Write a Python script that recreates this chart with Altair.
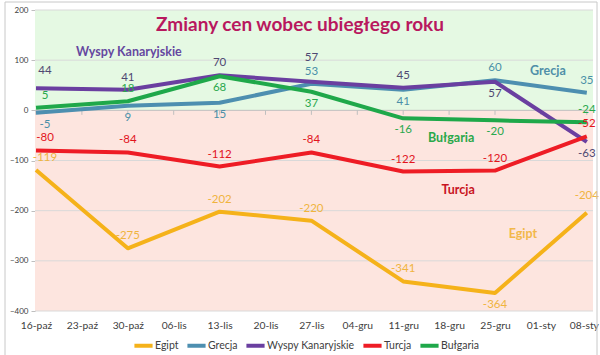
import json
import altair as alt
import pandas as pd

# ---- data ----
weeks = ["16-paź", "23-paź", "30-paź", "06-lis", "13-lis", "20-lis", "27-lis",
         "04-gru", "11-gru", "18-gru", "25-gru", "01-sty", "08-sty"]
dates = ["16-paź", "30-paź", "13-lis", "27-lis", "11-gru", "25-gru", "08-sty"]
series = ["Egipt", "Grecja", "Wyspy Kanaryjskie", "Turcja", "Bułgaria"]
egipt = [-119, -275, -202, -220, -341, -364, -204]
grecja = [-5, 9, 15, 53, 41, 60, 35]
wyspy = [44, 41, 70, 57, 45, 57, -63]
turcja = [-80, -84, -112, -84, -122, -120, -52]
bulgaria = [5, 18, 68, 37, -16, -20, -24]
values = [egipt, grecja, wyspy, turcja, bulgaria]

# ---- style ----
line_colors = ["#f5b21a", "#4d8fb0", "#6a3fa0", "#ee1c25", "#1fa84a"]
label_colors = {"Egipt": "#f0b43e", "Grecja": "#4a8fa8", "Wyspy Kanaryjskie": "#4f4872",
                "Turcja": "#e2141c", "Bułgaria": "#2aa84d"}
# label placement: a = above, b = below, m = a bit higher, h = high above
placement = {
    "Egipt": ["a", "a", "a", "a", "a", "b", "m"],
    "Grecja": ["b", "b", "b", "a", "b", "a", "a"],
    "Wyspy Kanaryjskie": ["m", "a", "a", "h", "a", "b", "b"],
    "Turcja": ["a", "a", "a", "a", "a", "a", "a"],
    "Bułgaria": ["a", "a", "b", "b", "b", "b", "a"],
}
offsets = {"a": -12, "b": 12, "m": -17, "h": -24}
first_dx = 9
annotations = pd.DataFrame({
    "text": ["Wyspy Kanaryjskie", "Grecja", "Bułgaria", "Turcja", "Egipt"],
    "week": ["30-paź", "01-sty", "18-gru", "18-gru", "01-sty"],
    "v": [117, 79, -55, -158, -246],
    "dx": [1, 7, 2, 9, -18],
    "color": ["#6548a0", "#4f8fa8", "#2aa84a", "#c8141e", "#f2b84a"],
})

FONT = "Lato"
W, H = 558, 301
STEP = 45.9
LAST = len(weeks) - 1

rows = []
for s, vals in zip(series, values):
    for d, v, p in zip(dates, vals, placement[s]):
        rows.append({"series": s, "week": d, "wi": weeks.index(d), "value": v, "pos": p,
                     "lc": label_colors[s]})
df = pd.DataFrame(rows)
annotations["wi"] = [weeks.index(w) for w in annotations["week"]]

xscale = alt.Scale(domain=[-1 / STEP, (W - 1) / STEP], nice=False, zero=False)
yscale = alt.Scale(domain=[-400, 200], nice=False)

x_axis = alt.Axis(title=None, labelAngle=0, domain=False, ticks=False,
                  values=list(range(len(weeks))),
                  labelExpr=json.dumps(weeks, ensure_ascii=False) + "[datum.value]",
                  labelOffset={"condition": {"test": f"datum.value == {LAST}", "value": -3},
                               "value": 0},
                  labelPadding=9, labelFontSize=10.3, labelColor="#404040",
                  labelFont=FONT, grid=False, labelOverlap=False, labelBound=False,
                  labelFlush=False)
y_axis = alt.Axis(title=None, values=[-400, -300, -200, -100, 0, 100, 200],
                  labelFontSize=8, labelColor="#404040", labelFont=FONT,
                  domainColor="#bfbfbf", tickColor="#bfbfbf", tickSize=4,
                  labelPadding=3, grid=False)


def X(field):
    return alt.X(field, type="quantitative", scale=xscale, axis=x_axis)


def Y(field):
    return alt.Y(field, type="quantitative", scale=yscale, axis=y_axis)


bgdf = pd.DataFrame({"lo": [0, -400], "hi": [200, 0], "c": ["#e5f9e3", "#fde5df"]})
bg = alt.Chart(bgdf).mark_rect().encode(
    x=alt.value(0), x2=alt.value(W),
    y=Y("hi"), y2="lo",
    color=alt.Color("c:N", scale=None),
)

grid = alt.Chart(pd.DataFrame({"g": [-400, -300, -200, -100, 100, 200]})).mark_rule(
    color="#d9d9d9", strokeWidth=1).encode(y=Y("g"))

zero = alt.Chart(pd.DataFrame({"z": [0]})).mark_rule(color="#bfbfbf", strokeWidth=1).encode(
    y=Y("z"))

ticks = alt.Chart(pd.DataFrame({"wi": list(range(len(weeks))), "a": 0, "b": -9})).mark_rule(
    color="#bfbfbf").encode(x=X("wi"), y=Y("a"), y2="b")

lines = alt.Chart(df).mark_line(strokeWidth=4, strokeJoin="round").encode(
    x=X("wi"), y=Y("value"),
    color=alt.Color("series:N", sort=series,
                    scale=alt.Scale(domain=series, range=line_colors),
                    legend=alt.Legend(title=None, orient="none", direction="horizontal",
                                      legendX=97, legendY=324, symbolType="stroke",
                                      symbolStrokeWidth=4, symbolSize=330,
                                      labelFontSize=10.5, labelFont=FONT,
                                      labelColor="#404040", labelOffset=0,
                                      columnPadding=0)),
    order=alt.Order("wi:Q"),
)


def label_layer(p, first):
    cond = (alt.datum.pos == p) & ((alt.datum.wi == 0) if first else (alt.datum.wi != 0))
    return alt.Chart(df).transform_filter(cond).transform_calculate(
        lbl="'' + datum.value").mark_text(
        fontSize=11.5, font=FONT, dy=offsets[p], dx=first_dx if first else 0).encode(
        x=X("wi"), y=Y("value"),
        text="lbl:N",
        color=alt.Color("lc:N", scale=None),
    )


labels = alt.layer(*[label_layer(p, f) for p in offsets for f in (True, False)])

ann_layers = []
for _, r in annotations.iterrows():
    ann_layers.append(
        alt.Chart(annotations).transform_filter(alt.datum.text == r["text"]).mark_text(
            fontSize=12.5, font=FONT, fontWeight="bold", dx=int(r["dx"])).encode(
            x=X("wi"), y=Y("v"),
            text="text:N",
            color=alt.Color("color:N", scale=None),
        ))

title = alt.Chart(pd.DataFrame({"t": ["Zmiany cen wobec ubiegłego roku"]})).mark_text(
    fontSize=19, font=FONT, fontWeight="bold", color="#b8185e").encode(
    x=alt.value(265), y=alt.value(15), text="t:N")

border = alt.Chart(pd.DataFrame({"k": [0]})).mark_rect(
    fill=None, stroke="#c8c8c8", strokeWidth=1, clip=False).encode(
    x=alt.value(-30), x2=alt.value(562), y=alt.value(-8), y2=alt.value(352))

chart = alt.layer(bg, grid, zero, ticks, lines, labels, *ann_layers, title, border).resolve_scale(
    color="independent"
).properties(
    width=W, height=H,
    autosize=alt.AutoSizeParams(type="none"),
    padding={"left": 35, "top": 10, "right": 7, "bottom": 44},
    background="white",
).configure_view(stroke=None)

chart.save("out.html", embed_options={"renderer": "svg", "actions": False})
